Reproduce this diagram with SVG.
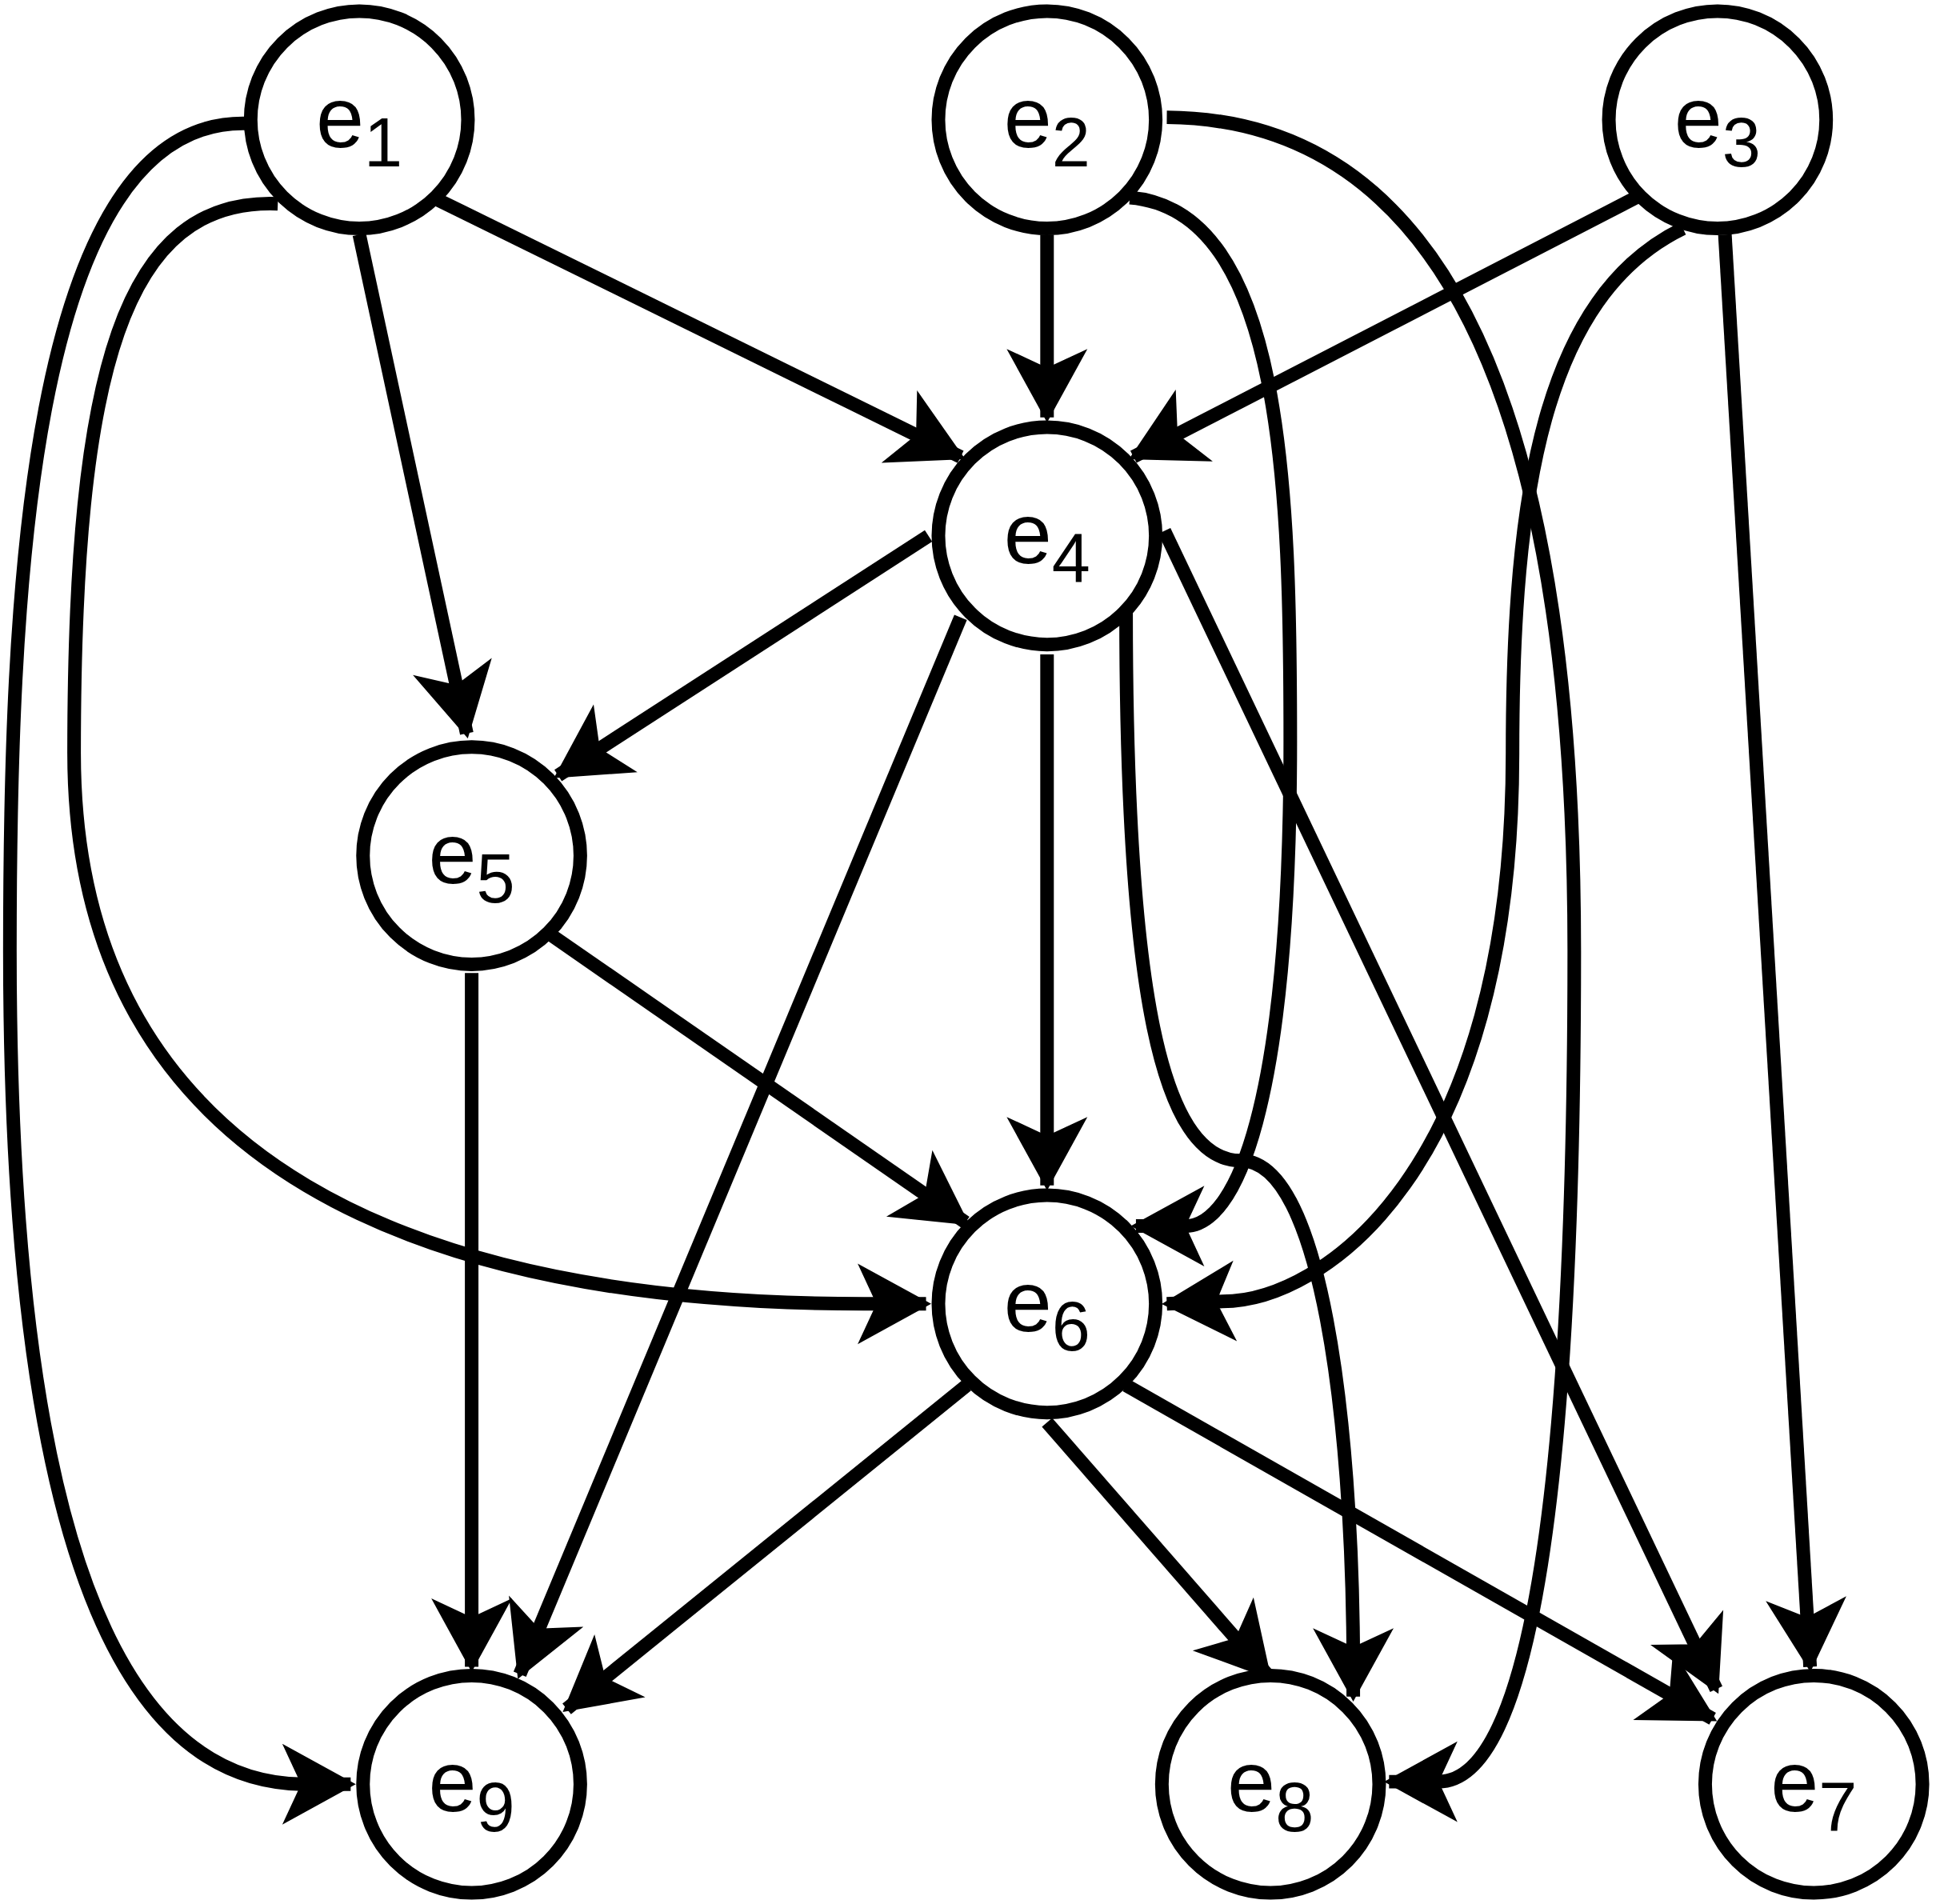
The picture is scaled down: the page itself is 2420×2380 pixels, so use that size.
<svg xmlns="http://www.w3.org/2000/svg" width="2420" height="2380" viewBox="0 0 2420 2380">
<style>
.n{fill:#fff;stroke:#000;stroke-width:11}
.e{fill:none;stroke:#000;stroke-width:11;marker-end:url(#a)}
text{font-family:"Liberation Sans",Arial,sans-serif;font-size:70px;fill:#000;text-anchor:middle}
.s{font-size:56px}
</style>
<defs>
<marker id="a" markerUnits="userSpaceOnUse" markerWidth="70" markerHeight="80" viewBox="-60 -40 70 80" refX="0" refY="0" orient="auto">
<path d="M0,0 L-51,-28 L-38,0 L-51,28 Z" fill="#000" stroke="#000" stroke-width="4"/>
</marker>
</defs>
<rect width="2420" height="2380" fill="#fff"/>
<g transform="scale(1.5434)">
<g id="edges">
<path class="e" d="M355,162 L778,370"/>
<path class="e" d="M291,190 L378,594"/>
<path class="e" d="M200,100 C20,95 8,500 8,770 C8,1200 80,1443 245,1445 L284,1445"/>
<path class="e" d="M225,165 C100,160 60,300 60,610 C60,950 350,1056 700,1056 L750,1056"/>
<path class="e" d="M848,190 L848,338"/>
<path class="e" d="M915,160 C1040,170 1045,400 1045,600 C1045,900 1000,993 960,993 L920,993"/>
<path class="e" d="M945,95 C1200,97 1275,400 1275,770 C1275,1200 1240,1443 1165,1443 L1125,1443"/>
<path class="e" d="M1325,160 L918,370"/>
<path class="e" d="M1363,185 C1250,240 1225,400 1225,610 C1225,950 1070,1054 990,1054 L945,1056"/>
<path class="e" d="M1397,190 L1466,1350"/>
<path class="e" d="M752,434 L452,628"/>
<path class="e" d="M848,530 L848,960"/>
<path class="e" d="M943,430 L1390,1368"/>
<path class="e" d="M778,500 L421,1356"/>
<path class="e" d="M912,495 C912,800 940,940 1005,940 C1070,940 1095,1150 1096,1340 L1096,1374"/>
<path class="e" d="M446,757 L782,990"/>
<path class="e" d="M382,788 L382,1350"/>
<path class="e" d="M783,1122 L459,1384"/>
<path class="e" d="M848,1152 L1027,1357"/>
<path class="e" d="M912,1122 L1387,1392"/>
</g>
<g id="e1"><circle class="n" cx="291" cy="97" r="88"/><text x="291" y="119">e<tspan class="s" dy="16">1</tspan></text></g>
<g id="e2"><circle class="n" cx="848" cy="97" r="88"/><text x="848" y="119">e<tspan class="s" dy="16">2</tspan></text></g>
<g id="e3"><circle class="n" cx="1391" cy="97" r="88"/><text x="1391" y="119">e<tspan class="s" dy="16">3</tspan></text></g>
<g id="e4"><circle class="n" cx="848" cy="434" r="88"/><text x="848" y="456">e<tspan class="s" dy="16">4</tspan></text></g>
<g id="e5"><circle class="n" cx="382" cy="693" r="88"/><text x="382" y="715">e<tspan class="s" dy="16">5</tspan></text></g>
<g id="e6"><circle class="n" cx="848" cy="1056" r="88"/><text x="848" y="1078">e<tspan class="s" dy="16">6</tspan></text></g>
<g id="e9"><circle class="n" cx="382" cy="1445" r="88"/><text x="382" y="1467">e<tspan class="s" dy="16">9</tspan></text></g>
<g id="e8"><circle class="n" cx="1029" cy="1445" r="88"/><text x="1029" y="1467">e<tspan class="s" dy="16">8</tspan></text></g>
<g id="e7"><circle class="n" cx="1469" cy="1445" r="88"/><text x="1469" y="1467">e<tspan class="s" dy="16">7</tspan></text></g>
</g>
</svg>
